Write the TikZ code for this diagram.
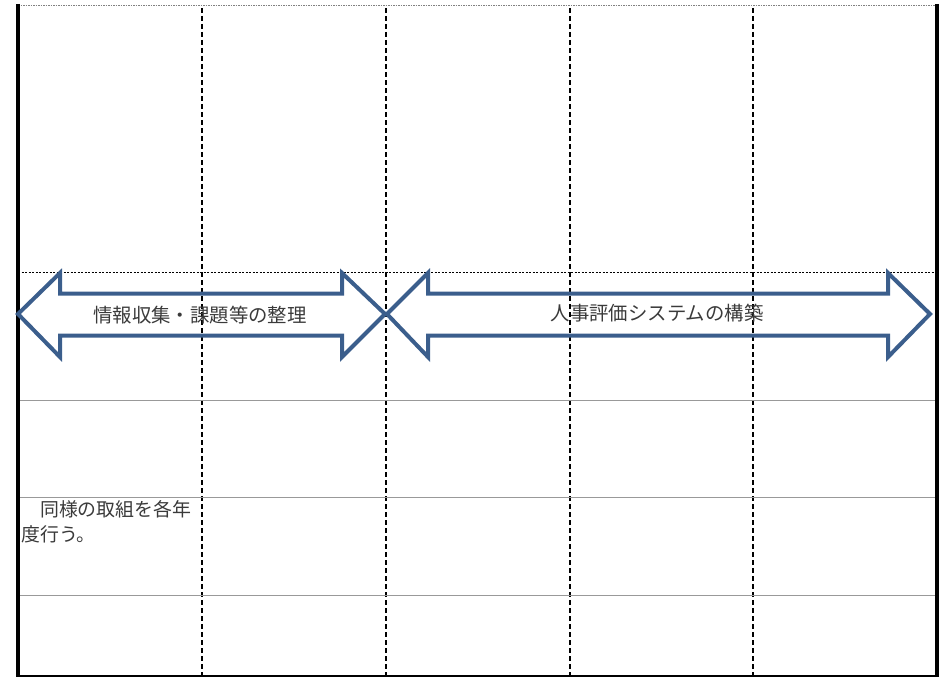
\documentclass[tikz,border=0pt]{standalone}
\usepackage{fontspec}
\newfontfamily\jpfont{Noto Sans CJK JP}
\definecolor{arrowblue}{HTML}{3B5E8C}
\definecolor{textgray}{HTML}{3A3A3A}
\begin{document}
\begin{tikzpicture}[x=1pt, y=-1pt, line join=miter, font=\jpfont\fontsize{19.4}{25}\selectfont]
			\useasboundingbox (0,0) rectangle (941,677);
			\tikzset{phase arrow/.style={draw=arrowblue, line width=4pt},
				year line/.style={black, line width=1.8pt, dash pattern=on 5pt off 3pt},
				row line/.style={gray!80, line width=0.9pt},
				plan text/.style={text=textgray, inner sep=0pt}}
			% table
			\draw[gray, line width=1.4pt, dash pattern=on 1.5pt off 1pt] (18,5.5)--(937,5.5);
			\foreach \x in {202,386,570,753}
			\draw[year line] (\x,8)--(\x,676);
			\draw[black, line width=0.7pt, dash pattern=on 2pt off 1.5pt] (18,272.5)--(937,272.5);
			\foreach \y in {400,497,595}
			\draw[row line] (18,\y)--(937,\y);
			\draw[black, line width=1.6pt] (18,676)--(937,676);
			\draw[black, line width=4pt] (18,4)--(18,677);
			\draw[black, line width=4pt] (937,4)--(937,677);
			% arrows
			\draw[phase arrow] (18,314)--(60,273)--(60,293.5)--(342,293.5)--(342,273)--(385,314)--(342,357)--(342,335.5)--(60,335.5)--(60,357)--cycle;
			\draw[phase arrow] (387,314)--(428,273)--(428,293.5)--(888,293.5)--(888,273)--(930,314)--(888,357)--(888,335.5)--(428,335.5)--(428,357)--cycle;
			\node[plan text] (survey) at (200,315) {情報収集・課題等の整理};
			\node[plan text] (system) at (657,313) {人事評価システムの構築};
			\node[plan text, anchor=north west, align=left, font=\jpfont\fontsize{18.9}{25}\selectfont] (repeat) at (21,500) {　同様の取組を各年\\度行う。};
		\end{tikzpicture}
\end{document}
